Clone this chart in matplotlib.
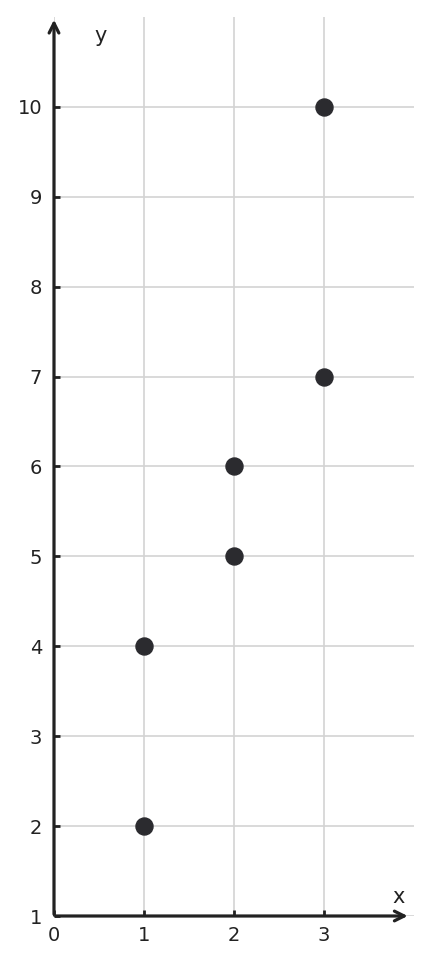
import matplotlib
matplotlib.use("Agg")
import matplotlib.pyplot as plt

x_vals = [1, 1, 2, 2, 3, 3]
y_vals = [2, 4, 5, 6, 7, 10]
x_ticks = [0, 1, 2, 3]
y_ticks = [1, 2, 3, 4, 5, 6, 7, 8, 9, 10]

dpi = 100
fig = plt.figure(figsize=(4.32, 9.65), dpi=dpi)
ax = fig.add_axes([54/432, 49/965, 360/432, 899/965])
ax.set_xlim(0, 4)
ax.set_ylim(1, 11)

ax.set_xticks(x_ticks)
ax.set_yticks(y_ticks)
ax.grid(True, color="#d3d3d3", linewidth=1.2)
ax.set_axisbelow(True)
for s in ax.spines.values():
    s.set_visible(False)
ax.tick_params(direction="in", length=4, width=2, color="#222222",
               labelsize=14, labelcolor="#222222")
ax.tick_params(axis="y", pad=8.5)
ax.tick_params(axis="x", pad=7)

ax.scatter(x_vals, y_vals, s=150, color="#2b2b2f", zorder=5)

axcol = "#222222"
ax.annotate("", xy=(3.93, 1), xytext=(0.02, 1), xycoords="data",
            arrowprops=dict(arrowstyle="->,head_length=0.7,head_width=0.35",
                            color=axcol, lw=2.3, shrinkA=0, shrinkB=0),
            annotation_clip=False, zorder=6)
ax.annotate("", xy=(0, 10.97), xytext=(0, 1.02), xycoords="data",
            arrowprops=dict(arrowstyle="->,head_length=0.7,head_width=0.35",
                            color=axcol, lw=2.3, shrinkA=0, shrinkB=0),
            annotation_clip=False, zorder=6)

ax.text(0.52, 10.79, "y", fontsize=15, color=axcol, ha="center", va="center")
ax.text(3.83, 1.21, "x", fontsize=15, color=axcol, ha="center", va="center")

fig.savefig("out.png", dpi=dpi)
